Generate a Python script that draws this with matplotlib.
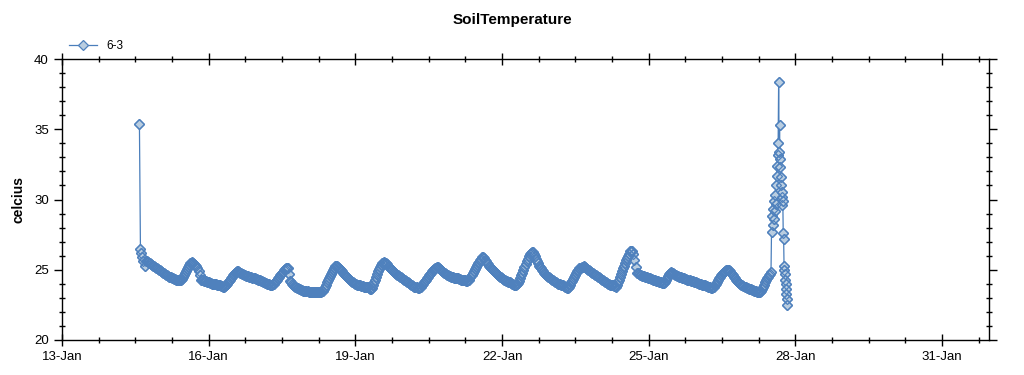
import numpy as np
import pandas as pd
import matplotlib
matplotlib.use("Agg")
import matplotlib.pyplot as plt
import matplotlib.dates as mdates
from matplotlib.ticker import MultipleLocator, FixedLocator

plt.rcParams['font.family'] = ['Liberation Sans', 'DejaVu Sans']

# half-hourly readings, sensor 6-3, starting 14-Jan 14:00
start = "2013-01-14 14:00"
temps = [
    # 14-Jan (from 14:00)
    35.4, 26.5, 26.2, 25.9, 25.6, 25.3, 25.65, 25.6, 25.55, 25.5,
    25.45, 25.4, 25.35, 25.3, 25.25, 25.2, 25.15, 25.1, 25.05, 25.0,
    # 15-Jan
    24.95, 24.9, 24.85, 24.8, 24.75, 24.7, 24.65, 24.6, 24.55, 24.5, 24.5, 24.45,
    24.4, 24.4, 24.35, 24.35, 24.3, 24.3, 24.3, 24.28, 24.3, 24.3, 24.35, 24.45,
    24.6, 24.75, 24.9, 25.05, 25.2, 25.35, 25.45, 25.5, 25.55, 25.5, 25.4, 25.35,
    25.3, 25.1, 24.9, 24.6, 24.3, 24.28, 24.25, 24.22, 24.2, 24.18, 24.15, 24.12,
    # 16-Jan
    24.1, 24.08, 24.05, 24.02, 24.0, 24.0, 24.0, 23.98, 23.95, 23.92, 23.9, 23.88,
    23.85, 23.82, 23.8, 23.8, 23.85, 23.92, 24.0, 24.1, 24.2, 24.3, 24.4, 24.5,
    24.6, 24.7, 24.8, 24.85, 24.9, 24.9, 24.85, 24.8, 24.75, 24.72, 24.7, 24.65,
    24.6, 24.58, 24.55, 24.52, 24.5, 24.48, 24.45, 24.42, 24.4, 24.38, 24.35, 24.32,
    # 17-Jan
    24.3, 24.28, 24.25, 24.22, 24.2, 24.15, 24.1, 24.08, 24.05, 24.02, 24.0, 23.98,
    23.95, 23.95, 23.95, 23.97, 24.0, 24.1, 24.2, 24.3, 24.4, 24.5, 24.6, 24.68,
    24.75, 24.85, 24.95, 25.02, 25.1, 25.12, 25.15, 24.7, 24.2, 24.1, 24.0, 23.92,
    23.85, 23.8, 23.75, 23.72, 23.7, 23.65, 23.6, 23.58, 23.55, 23.52, 23.5, 23.5,
    # 18-Jan
    23.5, 23.48, 23.45, 23.45, 23.45, 23.42, 23.4, 23.4, 23.4, 23.4, 23.4, 23.4,
    23.4, 23.42, 23.45, 23.48, 23.5, 23.65, 23.8, 23.95, 24.1, 24.25, 24.4, 24.55,
    24.7, 24.85, 25.0, 25.15, 25.3, 25.28, 25.25, 25.18, 25.1, 25.02, 24.95, 24.88,
    24.8, 24.72, 24.65, 24.58, 24.5, 24.42, 24.35, 24.28, 24.2, 24.15, 24.1, 24.05,
    # 19-Jan
    24.0, 23.98, 23.95, 23.92, 23.9, 23.88, 23.85, 23.82, 23.8, 23.8, 23.8, 23.78,
    23.75, 23.68, 23.6, 23.65, 23.7, 23.9, 24.1, 24.3, 24.5, 24.7, 24.9, 25.05,
    25.2, 25.32, 25.45, 25.5, 25.55, 25.5, 25.45, 25.38, 25.3, 25.22, 25.15, 25.08,
    25.0, 24.92, 24.85, 24.78, 24.7, 24.65, 24.6, 24.55, 24.5, 24.45, 24.4, 24.35,
    # 20-Jan
    24.3, 24.25, 24.2, 24.15, 24.1, 24.05, 24.0, 23.95, 23.9, 23.85, 23.8, 23.78,
    23.75, 23.72, 23.7, 23.75, 23.8, 23.9, 24.0, 24.1, 24.2, 24.3, 24.4, 24.5,
    24.6, 24.7, 24.8, 24.9, 25.0, 25.05, 25.1, 25.15, 25.2, 25.18, 25.15, 25.08,
    25.0, 24.92, 24.85, 24.8, 24.75, 24.7, 24.65, 24.6, 24.55, 24.52, 24.5, 24.48,
    # 21-Jan
    24.45, 24.42, 24.4, 24.4, 24.4, 24.38, 24.35, 24.32, 24.3, 24.3, 24.3, 24.28,
    24.25, 24.22, 24.2, 24.25, 24.3, 24.45, 24.6, 24.75, 24.9, 25.05, 25.2, 25.32,
    25.45, 25.58, 25.7, 25.8, 25.9, 25.9, 25.85, 25.72, 25.6, 25.5, 25.4, 25.3,
    25.2, 25.12, 25.05, 24.98, 24.9, 24.82, 24.75, 24.68, 24.6, 24.55, 24.5, 24.45,
    # 22-Jan
    24.4, 24.35, 24.3, 24.25, 24.2, 24.18, 24.15, 24.12, 24.1, 24.05, 24.0, 23.98,
    23.95, 23.92, 23.9, 23.98, 24.05, 24.22, 24.4, 24.6, 24.8, 25.0, 25.2, 25.4,
    25.6, 25.8, 26.0, 26.1, 26.2, 26.25, 26.25, 26.15, 26.0, 25.8, 25.6, 25.45,
    25.3, 25.2, 25.1, 25.0, 24.9, 24.8, 24.7, 24.62, 24.55, 24.5, 24.45, 24.4,
    # 23-Jan
    24.35, 24.3, 24.25, 24.2, 24.15, 24.1, 24.05, 24.02, 24.0, 23.98, 23.95, 23.92,
    23.9, 23.85, 23.8, 23.75, 23.7, 23.72, 23.8, 23.95, 24.1, 24.22, 24.35, 24.48,
    24.6, 24.75, 24.9, 25.0, 25.1, 25.15, 25.2, 25.22, 25.25, 25.2, 25.15, 25.08,
    25.0, 24.95, 24.9, 24.85, 24.8, 24.75, 24.7, 24.65, 24.6, 24.55, 24.5, 24.45,
    # 24-Jan
    24.4, 24.35, 24.3, 24.25, 24.2, 24.15, 24.1, 24.05, 24.0, 23.98, 23.95, 23.92,
    23.9, 23.88, 23.85, 23.82, 23.8, 23.95, 24.1, 24.3, 24.5, 24.7, 24.9, 25.1,
    25.3, 25.5, 25.7, 25.85, 26.0, 26.15, 26.3, 26.35, 26.35, 26.1, 25.7, 25.2,
    24.8, 24.75, 24.7, 24.65, 24.6, 24.58, 24.55, 24.52, 24.5, 24.48, 24.45, 24.42,
    # 25-Jan
    24.4, 24.38, 24.35, 24.32, 24.3, 24.28, 24.25, 24.22, 24.2, 24.18, 24.15, 24.12,
    24.1, 24.08, 24.05, 24.08, 24.1, 24.25, 24.4, 24.55, 24.7, 24.78, 24.85, 24.8,
    24.75, 24.7, 24.65, 24.6, 24.55, 24.52, 24.5, 24.48, 24.45, 24.42, 24.4, 24.38,
    24.35, 24.32, 24.3, 24.28, 24.25, 24.22, 24.2, 24.18, 24.15, 24.12, 24.1, 24.08,
    # 26-Jan
    24.05, 24.02, 24.0, 23.98, 23.95, 23.92, 23.9, 23.88, 23.85, 23.82, 23.8, 23.78,
    23.75, 23.72, 23.7, 23.75, 23.8, 23.9, 24.0, 24.12, 24.25, 24.38, 24.5, 24.6,
    24.7, 24.78, 24.85, 24.9, 24.95, 24.98, 25.0, 24.95, 24.9, 24.8, 24.7, 24.6,
    24.5, 24.4, 24.3, 24.22, 24.15, 24.08, 24.0, 23.95, 23.9, 23.85, 23.8, 23.75,
    # 27-Jan (to 12:00)
    23.7, 23.68, 23.65, 23.62, 23.6, 23.58, 23.55, 23.52, 23.5, 23.48, 23.45, 23.42,
    23.4, 23.42, 23.5, 23.65, 23.8, 23.95, 24.1, 24.25, 24.4, 24.5, 24.6, 24.72,
    24.85,
]

# readings during the spike on 27-Jan (hours after midnight)
spike_day = "2013-01-27"
spike_hours = [12.25, 12.5, 12.75, 13.0, 13.25, 13.5, 13.75, 14.0, 14.25, 14.5,
               14.75, 15.0, 15.25, 15.5, 15.75, 16.0, 16.2, 16.4, 16.6, 16.8,
               17.0, 17.2, 17.4, 17.6, 17.8, 18.0, 18.2, 18.4, 18.6, 18.8,
               19.0, 19.2, 19.4, 19.6, 19.8, 20.0]
spike_temps = [27.7, 28.8, 28.2, 29.3, 28.6, 29.9, 29.2, 30.3, 29.7, 31.0,
               31.7, 32.4, 33.2, 34.0, 38.35, 33.4, 35.3, 32.9, 32.3, 31.6,
               31.0, 30.2, 29.6, 30.5, 29.9, 27.6, 27.2, 25.3, 25.0, 24.7,
               24.3, 24.0, 23.6, 23.3, 22.9, 22.5]

times = pd.date_range(start, periods=len(temps), freq="30min")
spike_times = pd.Timestamp(spike_day) + pd.to_timedelta(spike_hours, unit="h")
all_times = np.concatenate([times.to_pydatetime(), spike_times.to_pydatetime()])
all_temps = temps + spike_temps

fig = plt.figure(figsize=(10.24, 3.75), dpi=100)
ax = fig.add_axes([62 / 1024, 1 - 340 / 375, 927 / 1024, 281 / 375])

blue = "#4f81bd"
ax.plot(all_times, all_temps, color="#4a7ebb", lw=0.9, marker="D", ms=4.6,
        mfc="#b9cde0", mec=blue, mew=0.9, label="6-3")
# outlines again on top so the dense stretch reads as a solid band
ax.plot(all_times, all_temps, ls="none", marker="D", ms=4.6,
        mfc="none", mec=blue, mew=0.9)

x0 = mdates.date2num(pd.Timestamp("2013-01-13"))
x1 = mdates.date2num(pd.Timestamp("2013-01-31 23:00"))
ax.set_xlim(x0, x1)
ax.set_ylim(20, 40)

ax.xaxis.set_major_locator(mdates.DayLocator(bymonthday=range(1, 32, 3)))
ax.xaxis.set_major_formatter(mdates.DateFormatter("%d-%b"))
ax.xaxis.set_minor_locator(FixedLocator(np.arange(x0, x1, 0.75)))
ax.yaxis.set_major_locator(MultipleLocator(5))
ax.yaxis.set_minor_locator(MultipleLocator(1))

ax.tick_params(which="both", top=True, right=True, labelsize=9.5, colors="black")
ax.tick_params(axis="x", which="major", direction="inout", length=9, width=1)
ax.tick_params(axis="x", which="minor", direction="inout", length=5, width=1)
ax.tick_params(axis="y", which="major", direction="out", length=6, width=1)
ax.tick_params(axis="y", which="minor", direction="inout", length=5, width=1)
for sp in ax.spines.values():
    sp.set_linewidth(1)
    sp.set_color("black")

ax.set_ylabel("celcius", fontsize=10, fontweight="bold", labelpad=6)
fig.suptitle("SoilTemperature", fontsize=11, fontweight="bold", y=0.965)
ax.legend(loc="lower left", bbox_to_anchor=(0.0, 1.0), frameon=False,
          fontsize=8.5, handlelength=2.4, borderaxespad=0.2)

fig.savefig("out.png", dpi=100)
